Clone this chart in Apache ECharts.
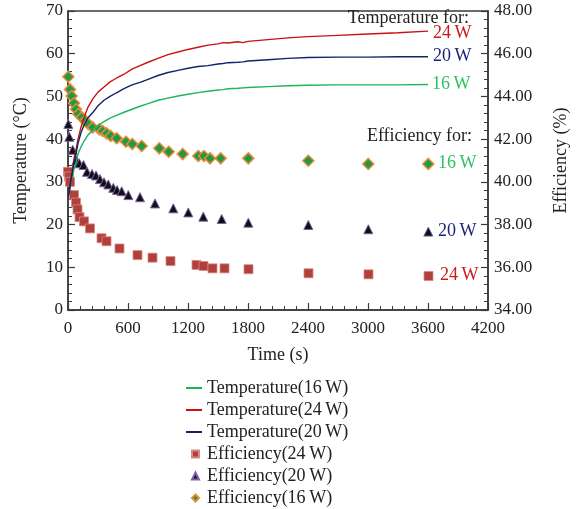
<!DOCTYPE html>
<html>
<head>
<meta charset="utf-8">
<script src="https://cdn.jsdelivr.net/npm/echarts@6/dist/echarts.min.js"></script>
<style>
  html, body { margin: 0; padding: 0; background: #fff; }
  #chart { width: 578px; height: 509px; }
</style>
</head>
<body>
<div id="chart"></div>
<script>
// temperature curves (left axis)
const tempTime = [0, 10, 20, 30, 45, 60, 80, 100, 130, 160, 200, 250, 300, 360, 420, 480, 560, 640, 720, 800, 900, 1000, 1100, 1200, 1300, 1400, 1500, 1550, 1600, 1700, 1750, 1800, 2000, 2200, 2400, 2700, 3000, 3300, 3600]
const temp24 = [26.5, 27.5, 29, 30.5, 33, 35.5, 37.5, 40, 42.8, 45, 47.5, 49.5, 51, 52.2, 53.4, 54.2, 55.2, 56.4, 57.2, 58, 58.9, 59.8, 60.4, 61, 61.5, 62, 62.3, 62.6, 62.5, 62.8, 62.6, 62.9, 63.3, 63.7, 64, 64.3, 64.6, 64.9, 65.3]
const temp20 = [26.5, 27.5, 29, 30.5, 32.5, 34.5, 36.5, 39, 41.5, 43.3, 45, 46.3, 47.8, 49.1, 50, 50.8, 51.8, 52.7, 53.3, 54, 54.9, 55.6, 56.1, 56.6, 57, 57.2, 57.6, 57.7, 57.9, 58, 58.1, 58.3, 58.6, 58.9, 59.1, 59.2, 59.2, 59.3, 59.3]
const temp16 = [26.5, 27.3, 28.5, 30, 31.5, 33, 34.5, 36.5, 38.2, 39.5, 41, 42.1, 43.2, 44.1, 44.9, 45.5, 46.3, 47, 47.7, 48.3, 49.1, 49.6, 50.1, 50.5, 50.9, 51.2, 51.5, 51.6, 51.8, 51.9, 52, 52.1, 52.3, 52.5, 52.6, 52.7, 52.7, 52.7, 52.8]

// efficiency points (right axis)
const eff24Time = [0, 10, 20, 60, 80, 95, 115, 160, 220, 335, 385, 515, 695, 845, 1025, 1285, 1355, 1445, 1565, 1805, 2405, 3005, 3605]
const eff24 = [40.47, 40.25, 40.0, 39.38, 39.03, 38.71, 38.35, 38.15, 37.82, 37.36, 37.22, 36.88, 36.57, 36.45, 36.29, 36.11, 36.06, 35.95, 35.95, 35.91, 35.72, 35.67, 35.59]
const eff20Time = [3, 13, 47, 85, 113, 155, 190, 240, 280, 320, 360, 403, 453, 490, 537, 603, 720, 870, 1053, 1203, 1353, 1537, 1803, 2403, 3003, 3603]
const eff20 = [42.71, 42.11, 41.5, 41.0, 40.87, 40.79, 40.47, 40.37, 40.3, 40.13, 39.98, 39.88, 39.72, 39.62, 39.56, 39.38, 39.28, 38.99, 38.76, 38.57, 38.37, 38.26, 38.09, 37.98, 37.78, 37.67]
const eff16Time = [3, 20, 37, 60, 80, 103, 137, 170, 203, 247, 313, 347, 387, 427, 487, 580, 643, 737, 913, 1007, 1147, 1303, 1360, 1420, 1527, 1803, 2403, 3003, 3603]
const eff16 = [44.92, 44.33, 44.02, 43.68, 43.4, 43.18, 43.02, 42.86, 42.71, 42.55, 42.46, 42.38, 42.27, 42.15, 42.04, 41.88, 41.77, 41.68, 41.57, 41.41, 41.3, 41.21, 41.21, 41.1, 41.1, 41.1, 40.99, 40.84, 40.84]

const xTicks = [0, 600, 1200, 1800, 2400, 3000, 3600, 4200]

const FONT = '"Liberation Serif", "DejaVu Serif", serif'
const AXIS = '#3a3a3a'

const pairs = (xs, ys) => xs.map((x, i) => [x, ys[i]])

const chart = echarts.init(document.getElementById('chart'))

const axisCommon = {
  axisLine: { show: true, lineStyle: { color: AXIS, width: 1.5 } },
  axisTick: { show: true, inside: true, length: 7, lineStyle: { color: AXIS, width: 1.2 } },
  minorTick: { show: true, splitNumber: 5, length: 4, lineStyle: { color: AXIS, width: 1 } },
  splitLine: { show: false },
  axisLabel: { color: '#222', fontFamily: FONT, fontSize: 17 },
  nameTextStyle: { color: '#222', fontFamily: FONT, fontSize: 18 }
}

const legendText = { color: '#222', fontFamily: FONT, fontSize: 18 }

const label = (text, x, y, color, align) => ({
  type: 'text',
  left: align === 'right' ? null : x,
  right: align === 'right' ? 578 - x : null,
  top: y - 10,
  style: { text, fill: color, font: '18px ' + FONT }
})

chart.setOption({
  animation: false,
  grid: { left: 68, right: 90, top: 11, bottom: 199, show: true, borderColor: AXIS, borderWidth: 1.5, backgroundColor: 'transparent' },
  xAxis: {
    type: 'value', min: 0, max: 4200, interval: 600,
    name: 'Time (s)', nameLocation: 'middle', nameGap: 36,
    ...axisCommon,
    axisLabel: { ...axisCommon.axisLabel, margin: 10, formatter: v => xTicks.includes(v) ? String(v) : '' }
  },
  yAxis: [{
    type: 'value', min: 0, max: 70, interval: 10,
    name: 'Temperature (°C)', nameLocation: 'middle', nameGap: 38, nameRotate: 90,
    ...axisCommon,
    axisLabel: { ...axisCommon.axisLabel, margin: 5 }
  }, {
    type: 'value', position: 'right', min: 34, max: 48, interval: 2,
    name: 'Efficiency (%)', nameLocation: 'middle', nameGap: 64, nameRotate: 90,
    ...axisCommon,
    axisLabel: { ...axisCommon.axisLabel, margin: 6, formatter: v => v.toFixed(2) }
  }],
  legend: [{
    orient: 'vertical', left: 181, top: 374, height: 80, itemWidth: 16, itemHeight: 2, itemGap: 4,
    icon: 'rect', textStyle: legendText,
    data: ['Temperature(16\u2009W)', 'Temperature(24\u2009W)', 'Temperature(20\u2009W)']
  }, {
    orient: 'vertical', left: 186, top: 440, height: 80, itemWidth: 7, itemHeight: 7, itemGap: 4,
    textStyle: { ...legendText, padding: [0, 0, 0, 3] },
    data: [
      { name: 'Efficiency(24\u2009W)', icon: 'rect' },
      { name: 'Efficiency(20\u2009W)', icon: 'triangle' },
      { name: 'Efficiency(16\u2009W)', icon: 'diamond' }
    ]
  }],
  series: [{
    name: 'Temperature(16\u2009W)', type: 'line', yAxisIndex: 0, showSymbol: false, symbol: 'none',
    lineStyle: { color: '#1eb45a', width: 1.4 }, itemStyle: { color: '#1eb45a' },
    data: pairs(tempTime, temp16)
  }, {
    name: 'Temperature(24\u2009W)', type: 'line', yAxisIndex: 0, showSymbol: false, symbol: 'none',
    lineStyle: { color: '#cc1111', width: 1.4 }, itemStyle: { color: '#cc1111' },
    data: pairs(tempTime, temp24)
  }, {
    name: 'Temperature(20\u2009W)', type: 'line', yAxisIndex: 0, showSymbol: false, symbol: 'none',
    lineStyle: { color: '#102466', width: 1.4 }, itemStyle: { color: '#102466' },
    data: pairs(tempTime, temp20)
  }, {
    name: 'Efficiency(24\u2009W)', type: 'scatter', yAxisIndex: 1, symbol: 'rect', symbolSize: 9,
    itemStyle: { color: '#b0403c', borderColor: '#d88a80', borderWidth: 0.8, opacity: 1 },
    data: pairs(eff24Time, eff24)
  }, {
    name: 'Efficiency(20\u2009W)', type: 'scatter', yAxisIndex: 1, symbol: 'triangle', symbolSize: 9,
    itemStyle: { color: '#111', borderColor: '#7b62a8', borderWidth: 1, opacity: 1 },
    data: pairs(eff20Time, eff20)
  }, {
    name: 'Efficiency(16\u2009W)', type: 'scatter', yAxisIndex: 1, symbol: 'diamond', symbolSize: 11,
    itemStyle: { color: '#1c9a44', borderColor: '#e88a3a', borderWidth: 1.5, opacity: 1 },
    data: pairs(eff16Time, eff16)
  }],
  graphic: [
    label('Temperature for:', 469, 19, '#222', 'right'),
    label('24\u2009W', 433, 34, '#cc1a1a'),
    label('20\u2009W', 433, 57, '#1b1f78'),
    label('16\u2009W', 432, 85, '#2fc163'),
    label('Efficiency for:', 472, 137, '#222', 'right'),
    label('16\u2009W', 438, 164, '#2fc163'),
    label('20\u2009W', 438, 232, '#1b1f78'),
    label('24\u2009W', 440, 276, '#cc1a1a')
  ]
})
</script>
</body>
</html>
